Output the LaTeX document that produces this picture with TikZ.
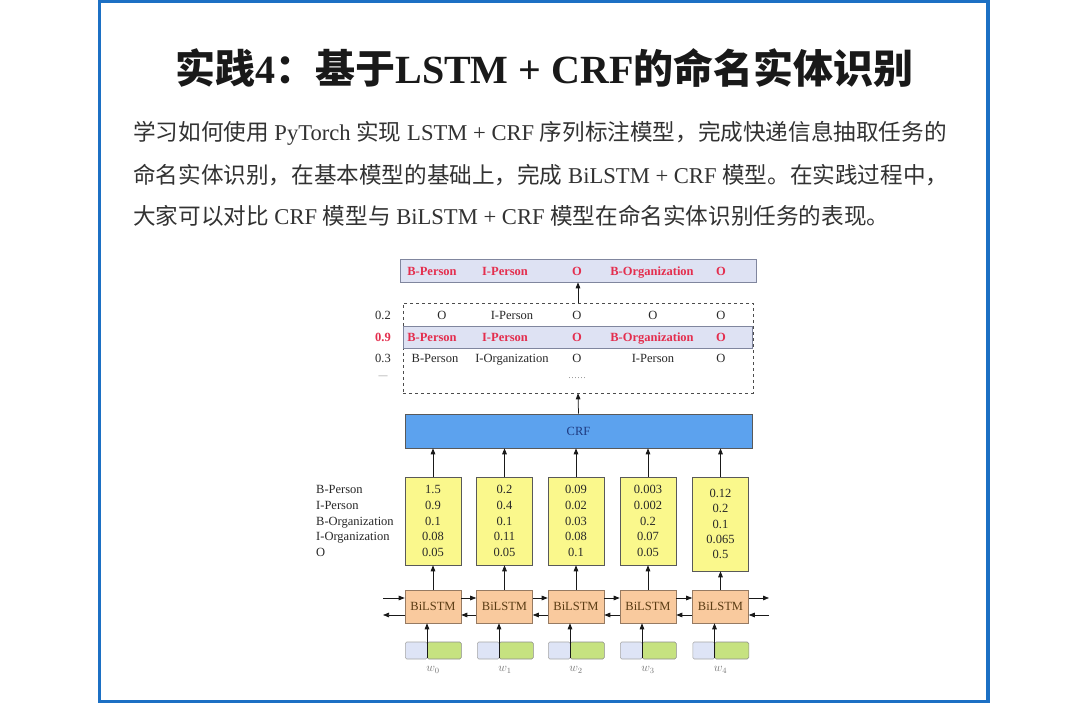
\documentclass[tikz,border=0pt]{standalone}
\usepackage{fontspec}
\setmainfont{Liberation Serif}
\newfontfamily\cjk{Noto Sans CJK SC}
\usetikzlibrary{arrows.meta,calc}
\definecolor{frameblue}{RGB}{28,112,196}
\definecolor{nerred}{RGB}{228,46,78}
\definecolor{lav}{RGB}{222,226,243}
\definecolor{lavb}{RGB}{128,134,158}
\definecolor{crfblue}{RGB}{92,162,238}
\definecolor{crftext}{RGB}{30,58,128}
\definecolor{yboxc}{RGB}{250,248,140}
\definecolor{orbox}{RGB}{249,202,158}
\definecolor{orboxb}{RGB}{150,122,98}
\definecolor{orboxt}{RGB}{90,60,20}
\definecolor{embblue}{RGB}{222,228,246}
\definecolor{embgreen}{RGB}{198,226,128}
\definecolor{txt}{RGB}{40,40,40}
\definecolor{ptxt}{RGB}{50,50,50}
\begin{document}
\begin{tikzpicture}[x=1pt,y=-1pt,
  arr/.style={-{Triangle[length=6pt,width=4.6pt]}, line width=0.75pt, black!90},
  lab/.style={font=\fontsize{12.5}{14}\selectfont, text=txt, inner sep=0pt, text height=8.5pt, text depth=2.8pt, yshift=-1.5pt},
  redlab/.style={font=\fontsize{12.5}{14}\selectfont\bfseries, text=nerred, inner sep=0pt, text height=8.5pt, text depth=2.8pt, yshift=-1.5pt},
  ybox/.style={draw=black!65, fill=yboxc, line width=0.6pt, minimum width=56pt, inner sep=0pt,
     align=center, font=\fontsize{12.5}{15.8}\selectfont, text=txt},
  lstm/.style={draw=orboxb, fill=orbox, line width=0.6pt, minimum width=56pt, minimum height=33pt,
     inner sep=0pt, font=\fontsize{12.5}{14}\selectfont, text=orboxt},
  embb/.style={draw=black!35, fill=embblue, line width=0.6pt, minimum width=22pt, minimum height=17pt,
     inner sep=0pt, rounded corners=1.5pt},
  embg/.style={draw=black!45, fill=embgreen, line width=0.6pt, minimum width=34pt, minimum height=17pt,
     inner sep=0pt, rounded corners=1.5pt},
  wlab/.style={font=\fontsize{12}{14}\selectfont, text=black!55, inner sep=0pt},
  para/.style={anchor=west, inner sep=0pt, text=ptxt, font=\fontsize{22.6}{26}\selectfont}
]
\useasboundingbox (0,0) rectangle (1080,703);
\fill[white] (0,0) rectangle (1080,703);
% frame
\draw[frameblue, line width=3.2pt] (99.5,1.2) rectangle (988,701.2);

% title
\node[inner sep=0pt, text=black!90] (title) at (544.5,68)
  {\fontsize{40}{44}\selectfont\bfseries{\cjk 实践}4{\cjk ：基于}LSTM + CRF{\cjk 的命名实体识别}};

% paragraph
\node[para] (p1) at (133,133) {{\cjk 学习如何使用} PyTorch {\cjk 实现} LSTM + CRF {\cjk 序列标注模型，完成快递信息抽取任务的}};
\node[para] (p2) at (133,175) {{\cjk 命名实体识别，在基本模型的基础上，完成} BiLSTM + CRF {\cjk 模型。在实践过程中，}};
\node[para] (p3) at (133,216) {{\cjk 大家可以对比} CRF {\cjk 模型与} BiLSTM + CRF {\cjk 模型在命名实体识别任务的表现。}};

% output row
\node[draw=lavb, fill=lav, line width=0.7pt, minimum width=356pt, minimum height=23pt, inner sep=0pt] (out) at (578,270.5) {};
\node[redlab] (o1) at (432,271) {B-Person};
\node[redlab] (o2) at (505,271) {I-Person};
\node[redlab] (o3) at (577,271) {O};
\node[redlab] (o4) at (652,271) {B-Organization};
\node[redlab] (o5) at (721,271) {O};

% dashed candidate box
\node[draw=black!70, dashed, line width=0.6pt, minimum width=350pt, minimum height=90pt, inner sep=0pt] (dash) at (578,348) {};
\node[draw=lavb, fill=lav, line width=0.7pt, minimum width=349pt, minimum height=22pt, inner sep=0pt] (best) at (577.5,337) {};
% row 1
\node[lab] (s1) at (383,315) {0.2};
\node[lab] (r11) at (442,315) {O};
\node[lab] (r12) at (512,315) {I-Person};
\node[lab] (r13) at (577,315) {O};
\node[lab] (r14) at (653,315) {O};
\node[lab] (r15) at (721,315) {O};
% row 2
\node[redlab] (s2) at (383,337) {0.9};
\node[redlab] (r21) at (432,337) {B-Person};
\node[redlab] (r22) at (505,337) {I-Person};
\node[redlab] (r23) at (577,337) {O};
\node[redlab] (r24) at (652,337) {B-Organization};
\node[redlab] (r25) at (721,337) {O};
% row 3
\node[lab] (s3) at (383,358) {0.3};
\node[lab] (r31) at (435,358) {B-Person};
\node[lab] (r32) at (512,358) {I-Organization};
\node[lab] (r33) at (577,358) {O};
\node[lab] (r34) at (653,358) {I-Person};
\node[lab] (r35) at (721,358) {O};
% row 4
\node[inner sep=0pt, text=black!50, font=\fontsize{9}{10}\selectfont] (s4) at (383,377) {—};
\node[inner sep=0pt, text=black!50, font=\fontsize{9}{10}\selectfont] (r43) at (577,378) {……};

\draw[arr] (dash.north) -- (out.south);

% CRF
\node[draw=black!65, fill=crfblue, line width=0.7pt, minimum width=347pt, minimum height=34pt, inner sep=0pt,
  font=\fontsize{12.5}{14}\selectfont, text=crftext] (crf) at (578.5,431) {CRF};
\draw[arr] (crf.north) -- (dash.south);

% emission label column
\node[anchor=west, align=left, inner sep=0pt, text=txt, font=\fontsize{12.5}{15.8}\selectfont] (tags) at (316,521)
  {B-Person\\I-Person\\B-Organization\\I-Organization\\O};

% yellow score boxes
\node[ybox, minimum height=88pt] (y1) at (433,521) {1.5\\0.9\\0.1\\0.08\\0.05};
\node[ybox, minimum height=88pt] (y2) at (504.5,521) {0.2\\0.4\\0.1\\0.11\\0.05};
\node[ybox, minimum height=88pt] (y3) at (576,521) {0.09\\0.02\\0.03\\0.08\\0.1};
\node[ybox, minimum height=88pt] (y4) at (648,521) {0.003\\0.002\\0.2\\0.07\\0.05};
\node[ybox, minimum height=94pt, font=\fontsize{12.5}{15.3}\selectfont] (y5) at (720.5,524) {0.12\\0.2\\0.1\\0.065\\0.5};

\foreach \i in {1,...,5}{
  \draw[arr] (y\i.north) -- (y\i.north |- crf.south);
}

% BiLSTM
\node[lstm] (b1) at (433,606.5) {BiLSTM};
\node[lstm] (b2) at (504.5,606.5) {BiLSTM};
\node[lstm] (b3) at (576,606.5) {BiLSTM};
\node[lstm] (b4) at (648,606.5) {BiLSTM};
\node[lstm] (b5) at (720.5,606.5) {BiLSTM};
\foreach \i in {1,...,5}{
  \draw[arr] (b\i.north) -- (y\i.south);
}
\foreach \i/\j in {1/2,2/3,3/4,4/5}{
  \draw[arr] ([yshift=8.5pt]b\i.east) -- ([yshift=8.5pt]b\j.west);
  \draw[arr] ([yshift=-8.5pt]b\j.west) -- ([yshift=-8.5pt]b\i.east);
}
\coordinate (lin) at (383,598);
\coordinate (lout) at (383,615);
\coordinate (rout) at (769,598);
\coordinate (rin) at (769,615);
\draw[arr] (lin) -- (lin -| b1.west);
\draw[arr] (lout -| b1.west) -- (lout);
\draw[arr] (rout -| b5.east) -- (rout);
\draw[arr] (rin) -- (rin -| b5.east);

% embeddings
\foreach \i/\x/\n in {1/405/0,2/477/1,3/548/2,4/620/3,5/692.5/4}{
  \node[embb, anchor=west] (ea\i) at (\x,650.5) {};
  \node[embg, anchor=west] (eb\i) at (\x+22,650.5) {};
  \draw[arr] ([yshift=1pt]eb\i.south west) -- (eb\i.south west |- b\i.south);
  \node[wlab] (w\i) at (\x+28,670) {$w_{\n}$};
}
\end{tikzpicture}
\end{document}
